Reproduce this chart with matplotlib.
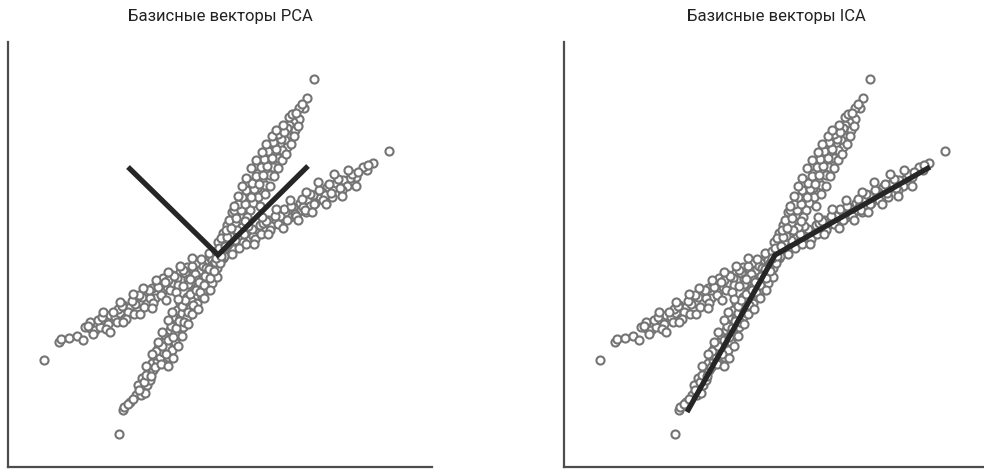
import matplotlib
matplotlib.use("Agg")
import matplotlib.pyplot as plt

# точки облака (одни и те же на обеих панелях), координаты в условных единицах
arm_b_x = [-174, -159, -157, -149, -141, -135, -133, -128, -128, -123, -118, -113, -108, -103, -98, -93,
           -95, -88, -85, -81, -78, -71, -71, -66, -63, -61, -56, -55, -51, -46, -45, -38, -36, -31, -28,
           -21, -18, -120, -110, -100, -90, -83, -76, -68, -58, -50, -41, -33, -25, -13, -8, -15,
           -3, 3, 7, -6,
           171, 155, 149, 145, 138, 132, 125, 129, 124, 115, 109, 114, 104, 102, 95, 97, 89, 88, 82,
           80, 75, 72, 67, 64, 59, 55, 50, 47, 42, 39, 32, 29, 22, 19, 12,
           118, 107, 92, 85, 77, 62, 53, 45, 35, 25, 15, 10,
           -130, -125, -116, -112, -105, -101, -96, -92, -86, -84, -79, -74, -69, -65, -60, -57, -53,
           -48, -44, -40, -35, -30, -26, -23, -17, -12, -9, -4, 1, 5, 9, 14, 17, 21, 26, 28, 34, 37,
           43, 48, 52, 57, 60, 66, 69, 73, 78, 84, 87, 92, 96, 101, 105, 111, 113, 120, 122, 134,
           140, 150,
           -115, -108, -98, -95, -85, -78, -75, -66, -62, -52, -50, -42, -38, -30, -26, -20,
           30, 36, 44, 50, 58, 65, 72, 80, 88, 94, 100, 108, 116, 124, 130, 138]
arm_b_y = [-106, -88, -85, -84, -82, -86, -73, -68, -74, -76, -73, -66, -61, -63, -59, -64,
           -51, -53, -46, -56, -48, -39, -48, -34, -44, -29, -38, -24, -33, -21, -29, -18, -26, -13, -21,
           -9, -16, -66, -70, -55, -58, -50, -43, -44, -31, -26, -24, -19, -15, -7, -3, -12,
           -2, 1, 5, -6,
           103, 91, 84, 87, 77, 76, 74, 68, 64, 66, 67, 57, 62, 56, 59, 51, 54, 42, 51,
           42, 47, 37, 42, 34, 39, 31, 34, 26, 29, 21, 22, 14, 16, 9, 7,
           71, 59, 48, 47, 40, 38, 28, 31, 18, 12, 5, 10,
           -72, -80, -63, -75, -58, -68, -52, -65, -47, -60, -41, -53, -36, -49, -33, -41, -28,
           -36, -22, -31, -16, -25, -12, -20, -5, -14, 1, -9, 4, -4, 9, 0, 14, 6, 20, 10, 25, 15,
           20, 33, 24, 38, 30, 45, 34, 48, 38, 55, 44, 60, 50, 64, 54, 70, 61, 75, 66, 80,
           82, 89,
           -58, -78, -48, -68, -40, -60, -34, -54, -26, -46, -18, -38, -12, -30, -4, -26,
           28, 10, 37, 20, 45, 26, 54, 34, 62, 42, 72, 50, 80, 58, 84, 68]

arm_a_x = [-99, -95, -94, -88, -82, -77, -73, -80, -76, -71, -68, -70, -65, -66, -61, -63, -58, -60,
           -55, -50, -55, -51, -46, -53, -48, -43, -48, -43, -45, -40, -35, -43, -38, -41, -36, -31,
           -38, -33, -28, -31, -26, -21, -26, -21, -16, -21, -16, -11, -16, -11, -6, -11, -6, -1,
           -6, -1, -3, 2,
           96, 89, 86, 81, 81, 75, 71, 77, 69, 72, 67, 62, 69, 56, 64, 57, 52, 60, 50, 55, 47, 52,
           40, 44, 37, 47, 39, 32, 40, 29, 35, 25, 32, 14, 22, 29, 9, 17, 24, 5, 15, 0, 10,
           4, -2, 6, 19, 12, 27,
           -90, -85, -79, -74, -72, -67, -63, -57, -62, -56, -52, -50, -45, -47, -42, -39, -34, -36,
           -30, -33, -25, -28, -22, -18, -19, -14, -13, -8, -9, -4, -2, 3, 1, 7, 3, 9, 8, 13, 11, 18,
           16, 23, 20, 27, 24, 33, 28, 36, 34, 41, 38, 45, 43, 49, 46, 54, 50, 58, 55, 63, 60, 66,
           65, 71, 74, 78, 84,
           16, 42, 20, 47, 24, 52, 28, 56, 33, 60, 38, 64, 44, 68, 48, 73, 54, 76, 58, 80,
           -72, -50, -66, -45, -60, -40, -56, -36, -50, -30, -46, -26, -40, -20, -35, -14, -28, -8]
arm_a_y = [-180, -156, -153, -148, -141, -141, -139, -131, -124, -131, -126, -119, -116, -109, -106, -101,
           -103, -94, -98, -103, -88, -93, -96, -81, -84, -88, -76, -78, -69, -71, -73, -63, -64, -56,
           -59, -63, -49, -53, -54, -43, -46, -49, -38, -41, -43, -33, -34, -36, -26, -28, -29, -19,
           -21, -23, -13, -14, -8, -9,
           175, 156, 146, 146, 135, 132, 129, 124, 126, 117, 114, 111, 107, 109, 104, 101, 97, 96, 92,
           87, 84, 79, 81, 74, 74, 69, 66, 61, 57, 54, 51, 47, 44, 42, 39, 37, 29, 31, 27, 21, 21,
           12, 12, 4, 3, -2, 24, 18, 33,
           -150, -145, -136, -128, -121, -122, -113, -110, -97, -92, -100, -86, -83, -72, -74, -67,
           -68, -52, -58, -46, -51, -40, -36, -38, -28, -31, -22, -24, -15, -17, -4, -2, 6, 8, 16, 17,
           24, 26, 34, 36, 44, 44, 50, 50, 57, 57, 64, 65, 71, 70, 78, 79, 87, 88, 95, 96, 103, 105,
           112, 115, 120, 122, 129, 137, 140, 141, 150,
           48, 48, 58, 60, 68, 68, 76, 78, 86, 86, 94, 94, 102, 100, 110, 110, 118, 118, 124, 128,
           -112, -112, -100, -104, -88, -92, -78, -82, -66, -70, -58, -60, -45, -55, -32, -44, -25, -36]

# базисные векторы
pca_x = [-90, 0, 90]
pca_y = [87, -1, 88]
ica_x = [-87, 1, 156]
ica_y = [-158, -1, 87]

titles = ["Базисные векторы PCA", "Базисные векторы ICA"]

fig = plt.figure(figsize=(9.84, 4.69), dpi=100)
W, H = 984, 469

pts_x = arm_b_x + arm_a_x
pts_y = arm_b_y + arm_a_y

for i, (vx, vy) in enumerate([(pca_x, pca_y), (ica_x, ica_y)]):
    left = 8 + 556 * i
    ax = fig.add_axes([left / W, 2 / H, 424 / W, 425 / H])
    ax.scatter(pts_x, pts_y, s=34, facecolor="white", edgecolor="#747474",
               linewidths=1.5, zorder=2)
    ax.plot(vx, vy, color="#262626", lw=3.8, solid_capstyle="butt",
            solid_joinstyle="miter", zorder=3)
    ax.set_xlim(-210, 214)
    ax.set_ylim(-213, 212)
    ax.set_xticks([])
    ax.set_yticks([])
    for s in ["top", "right"]:
        ax.spines[s].set_visible(False)
    for s in ["left", "bottom"]:
        ax.spines[s].set_color("#4d4d4d")
        ax.spines[s].set_linewidth(1.6)
    fig.text((left + 212) / W, 1 - 17 / H, titles[i], ha="center", va="center",
             fontsize=12, color="#222222",
             family=["Roboto", "DejaVu Sans"])

fig.savefig("out.png", dpi=100)
